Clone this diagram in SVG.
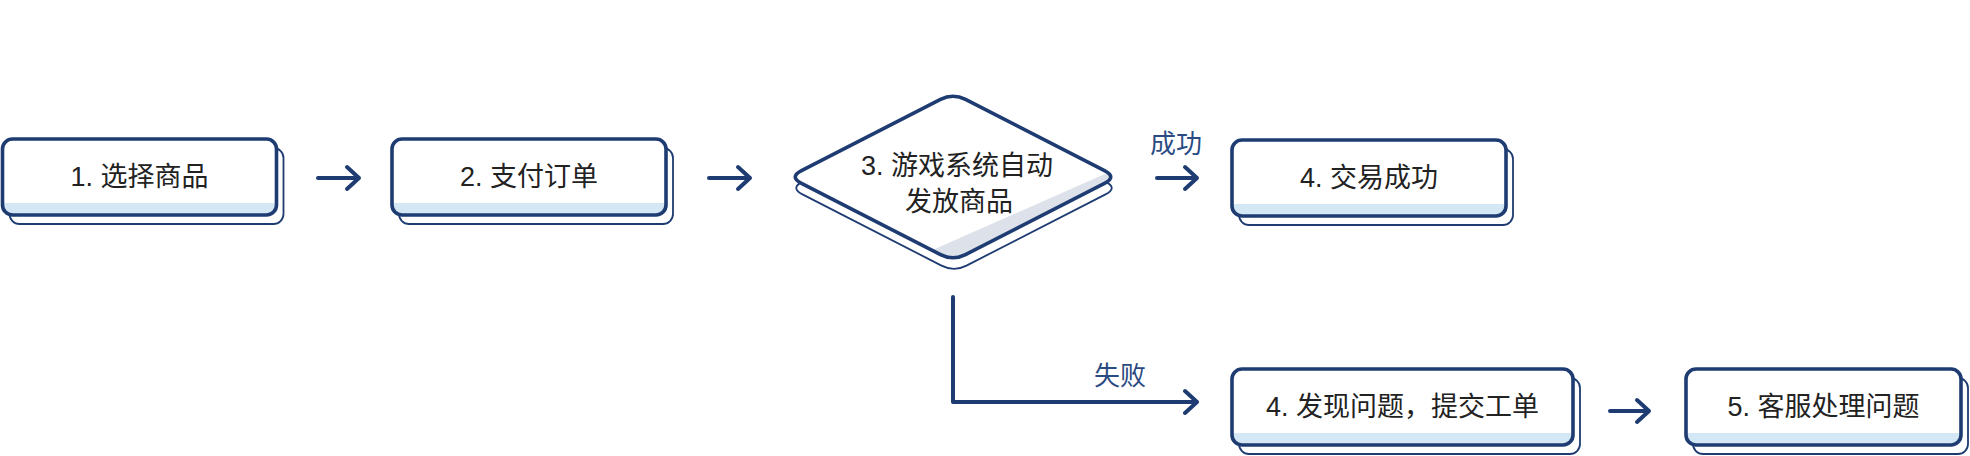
<svg xmlns="http://www.w3.org/2000/svg" width="1970" height="456" viewBox="0 0 1970 456">
<style>
.back{fill:#fff;stroke:#1e3c72;stroke-width:1.8}
.front{fill:#fff;stroke:none}
.edge{fill:none;stroke:#1e3c72;stroke-width:3.6}
.strip{fill:#d3e7f4}
.t{font-family:"Liberation Sans","Noto Sans CJK SC",sans-serif;font-size:27px;fill:#222;text-anchor:middle;dominant-baseline:central}
.lbl{font-family:"Liberation Sans","Noto Sans CJK SC",sans-serif;font-size:26px;fill:#2a4a82;text-anchor:middle;dominant-baseline:central}
.c{fill:none;stroke:#1e3c72;stroke-width:4;stroke-linecap:round;stroke-linejoin:round}
</style>
<defs>
<clipPath id="dclip"><path d="M940.5,99.4 Q953,93 965.5,99.4 L1104.5,170.6 Q1117,177 1104.5,183.4 L965.5,254.6 Q953,261 940.5,254.6 L801.5,183.4 Q789,177 801.5,170.6 Z"/></clipPath>
</defs>
<g id="node1">
<rect class="back" x="9.5" y="148" width="274" height="76" rx="10"/>
<rect class="front" x="2.5" y="139" width="274" height="76" rx="10"/>
<path class="strip" d="M2.5,203 H276.5 V205 A10,10 0 0 1 266.5,215 H12.5 A10,10 0 0 1 2.5,205 Z"/>
<rect class="edge" x="2.5" y="139" width="274" height="76" rx="10"/>
<text class="t" x="139.5" y="177">1. 选择商品</text>
</g>
<g id="node2">
<rect class="back" x="399" y="148" width="274" height="76" rx="10"/>
<rect class="front" x="392" y="139" width="274" height="76" rx="10"/>
<path class="strip" d="M392,203 H666 V205 A10,10 0 0 1 656,215 H402 A10,10 0 0 1 392,205 Z"/>
<rect class="edge" x="392" y="139" width="274" height="76" rx="10"/>
<text class="t" x="529" y="177">2. 支付订单</text>
</g>
<g id="node3">
<path class="back" transform="translate(1,11)" d="M940.5,99.4 Q953,93 965.5,99.4 L1104.5,170.6 Q1117,177 1104.5,183.4 L965.5,254.6 Q953,261 940.5,254.6 L801.5,183.4 Q789,177 801.5,170.6 Z"/>
<path class="front" d="M940.5,99.4 Q953,93 965.5,99.4 L1104.5,170.6 Q1117,177 1104.5,183.4 L965.5,254.6 Q953,261 940.5,254.6 L801.5,183.4 Q789,177 801.5,170.6 Z"/>
<polygon fill="#dde1ea" clip-path="url(#dclip)" points="1125,165 928,252 928,275 1130,275"/>
<path class="edge" d="M940.5,99.4 Q953,93 965.5,99.4 L1104.5,170.6 Q1117,177 1104.5,183.4 L965.5,254.6 Q953,261 940.5,254.6 L801.5,183.4 Q789,177 801.5,170.6 Z"/>
<text class="t" x="957" y="166">3. 游戏系统自动</text>
<text class="t" x="959" y="202">发放商品</text>
</g>
<g id="node4">
<rect class="back" x="1239" y="149" width="274" height="76" rx="10"/>
<rect class="front" x="1232" y="140" width="274" height="76" rx="10"/>
<path class="strip" d="M1232,204 H1506 V206 A10,10 0 0 1 1496,216 H1242 A10,10 0 0 1 1232,206 Z"/>
<rect class="edge" x="1232" y="140" width="274" height="76" rx="10"/>
<text class="t" x="1369" y="178">4. 交易成功</text>
</g>
<g id="node5">
<rect class="back" x="1239" y="378" width="341" height="76" rx="10"/>
<rect class="front" x="1232" y="369" width="341" height="76" rx="10"/>
<path class="strip" d="M1232,433 H1573 V435 A10,10 0 0 1 1563,445 H1242 A10,10 0 0 1 1232,435 Z"/>
<rect class="edge" x="1232" y="369" width="341" height="76" rx="10"/>
<text class="t" x="1402.5" y="407">4. 发现问题，提交工单</text>
</g>
<g id="node6">
<rect class="back" x="1693" y="378" width="275" height="76" rx="10"/>
<rect class="front" x="1686" y="369" width="275" height="76" rx="10"/>
<path class="strip" d="M1686,433 H1961 V435 A10,10 0 0 1 1951,445 H1696 A10,10 0 0 1 1686,435 Z"/>
<rect class="edge" x="1686" y="369" width="275" height="76" rx="10"/>
<text class="t" x="1823.5" y="407">5. 客服处理问题</text>
</g>
<g id="connectors">
<path class="c" d="M318,178 H359 M347,167 L359,178 L347,189"/>
<path class="c" d="M709,178 H750 M738,167 L750,178 L738,189"/>
<path class="c" d="M1157,178 H1197 M1185,167 L1197,178 L1185,189"/>
<path class="c" d="M953,297 V402 H1197 M1185,391 L1197,402 L1185,413"/>
<path class="c" d="M1610,411 H1649 M1637,400 L1649,411 L1637,422"/>
<text class="lbl" x="1176" y="144">成功</text>
<text class="lbl" x="1120" y="376">失败</text>
</g>
</svg>
